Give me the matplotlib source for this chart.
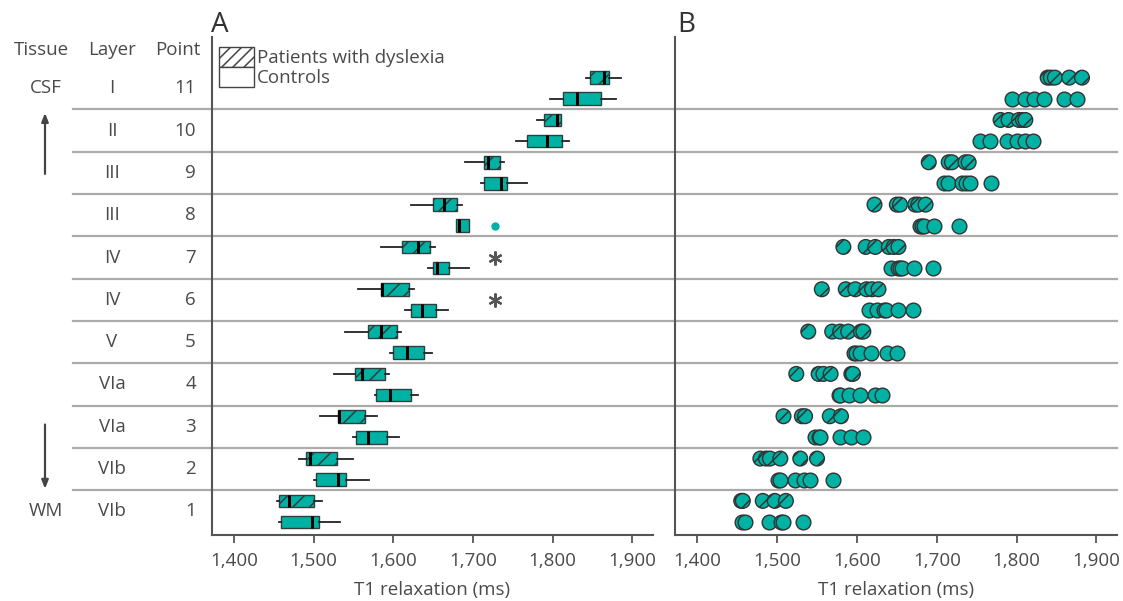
import matplotlib
matplotlib.use("Agg")
import matplotlib.pyplot as plt
from matplotlib.patches import Patch
from matplotlib.transforms import blended_transform_factory
from matplotlib.ticker import FuncFormatter

plt.rcParams['font.family'] = ['Open Sans', 'DejaVu Sans']
plt.rcParams['hatch.linewidth'] = 1.1

# ---------------- data (index 0 = point 1 ... index 10 = point 11) ----------------
points = [1, 2, 3, 4, 5, 6, 7, 8, 9, 10, 11]
layers = ["VIb", "VIb", "VIa", "VIa", "V", "IV", "IV", "III", "III", "II", "I"]

# box statistics: whisker low, Q1, median, Q3, whisker high
dys_whislo = [1454, 1481, 1508, 1525, 1539, 1556, 1584, 1622, 1690, 1780, 1842]
dys_q1     = [1456, 1490, 1531, 1552, 1568, 1585, 1611, 1650, 1714, 1789, 1847]
dys_med    = [1469, 1496, 1532, 1561, 1584, 1586, 1631, 1664, 1719, 1805, 1864]
dys_q3     = [1500, 1529, 1565, 1590, 1605, 1620, 1646, 1680, 1734, 1810, 1871]
dys_whishi = [1511, 1549, 1579, 1594, 1609, 1626, 1652, 1686, 1739, 1811, 1886]

ctl_whislo = [1456, 1501, 1549, 1577, 1596, 1615, 1644, 1679, 1710, 1754, 1796]
ctl_q1     = [1459, 1503, 1553, 1578, 1600, 1622, 1650, 1679, 1714, 1768, 1813]
ctl_med    = [1498, 1530, 1568, 1596, 1617, 1636, 1655, 1682.5, 1735, 1793, 1830]
ctl_q3     = [1507, 1540, 1592, 1622, 1639, 1653, 1670, 1695, 1743, 1812, 1861]
ctl_whishi = [1533, 1570, 1607, 1631, 1649, 1669, 1695, 1695, 1768, 1820, 1879]
ctl_fliers = [[], [], [], [], [], [], [], [1728], [], [], []]

significant_points = [6, 7]
asterisk_x = 1727

# individual subjects (panel B)
dys_values = [
    [1455, 1457, 1482, 1497, 1511],
    [1479, 1486, 1491, 1504, 1529, 1550],
    [1508, 1531, 1535, 1566, 1580],
    [1524, 1552, 1558, 1567, 1593, 1595],
    [1539, 1569, 1579, 1589, 1605, 1608],
    [1556, 1586, 1598, 1612, 1619, 1627],
    [1583, 1611, 1623, 1640, 1646, 1652],
    [1622, 1650, 1654, 1673, 1677, 1686],
    [1690, 1715, 1719, 1736, 1740],
    [1780, 1790, 1803, 1808, 1811],
    [1839, 1843, 1848, 1866, 1882],
]
ctl_values = [
    [1456, 1460, 1490, 1505, 1507, 1533],
    [1501, 1503, 1523, 1534, 1541, 1570],
    [1548, 1552, 1554, 1579, 1592, 1608],
    [1577, 1579, 1590, 1604, 1623, 1631],
    [1596, 1599, 1604, 1617, 1638, 1650],
    [1615, 1625, 1634, 1637, 1652, 1670],
    [1643, 1651, 1654, 1657, 1671, 1695],
    [1679, 1681, 1684, 1696, 1728],
    [1709, 1714, 1732, 1737, 1742, 1768],
    [1754, 1767, 1788, 1800, 1811, 1820],
    [1794, 1811, 1822, 1835, 1859, 1876],
]

x_ticks = [1400, 1500, 1600, 1700, 1800, 1900]
xlabel = "T1 relaxation (ms)"
legend_labels = ["Patients with dyslexia", "Controls"]

# ---------------- style ----------------
TEAL = "#00b2a4"
EDGE = "#2e3f3d"
SPINE = "#555555"
TEXT = "#4a4a4a"
SEP = "#ababab"
FS = 13.5
OFF = 0.25
XLIM = (1372.4, 1925.5)
YLIM = (0.444, 12.21)

fig = plt.figure(figsize=(11.23, 6.01), dpi=100)
axA = fig.add_axes([212 / 1123, 66 / 601, 440.7 / 1123, 498 / 601])
axB = fig.add_axes([675.3 / 1123, 66 / 601, 441.4 / 1123, 498 / 601])

for ax in (axA, axB):
    ax.patch.set_visible(False)
    ax.set_xlim(*XLIM)
    ax.set_ylim(*YLIM)
    for s in ("top", "right"):
        ax.spines[s].set_visible(False)
    for s in ("left", "bottom"):
        ax.spines[s].set_color(SPINE)
        ax.spines[s].set_linewidth(1.5)
    ax.set_yticks([])
    ax.set_xticks(x_ticks)
    ax.xaxis.set_major_formatter(FuncFormatter(lambda v, p: f"{v:,.0f}"))
    ax.tick_params(axis="x", direction="out", length=6, width=1.3, color=SPINE,
                   labelsize=FS, labelcolor=TEXT, pad=6)
    ax.set_xlabel(xlabel, fontsize=FS, color=TEXT, labelpad=8)

# separators across the whole figure
tr = blended_transform_factory(fig.transFigure, axA.transData)
for p in points[:-1]:
    axA.plot([73 / 1123, 1117 / 1123], [p + 0.5, p + 0.5], transform=tr,
             color=SEP, lw=1.6, clip_on=False, zorder=0)

# ---------------- panel A: boxplots ----------------
def stats(wl, q1, md, q3, wh, fl=None):
    return [dict(whislo=a, q1=b, med=c, q3=d, whishi=e, fliers=(fl[i] if fl else []))
            for i, (a, b, c, d, e) in enumerate(zip(wl, q1, md, q3, wh))]

dys_stats = stats(dys_whislo, dys_q1, dys_med, dys_q3, dys_whishi)
ctl_stats = stats(ctl_whislo, ctl_q1, ctl_med, ctl_q3, ctl_whishi, ctl_fliers)

common = dict(vert=False, widths=0.3, patch_artist=True, showcaps=False,
              whiskerprops=dict(color="#222222", lw=1.3),
              medianprops=dict(color="black", lw=2.2),
              flierprops=dict(marker="o", markerfacecolor=TEAL, markeredgecolor=TEAL,
                              markersize=5),
              manage_ticks=False)
axA.bxp(dys_stats, positions=[p + OFF for p in points],
        boxprops=dict(facecolor=TEAL, edgecolor=EDGE, lw=1.0, hatch="//"), **common)
axA.bxp(ctl_stats, positions=[p - OFF for p in points],
        boxprops=dict(facecolor=TEAL, edgecolor=EDGE, lw=1.0), **common)

for p in significant_points:
    axA.plot([asterisk_x], [p], linestyle="none", marker=(6, 2, 0), markersize=10,
             markeredgewidth=1.6, color="#555555")

leg = axA.legend(handles=[Patch(facecolor="white", edgecolor="#444444", hatch="///", lw=1.0),
                          Patch(facecolor="white", edgecolor="#444444", lw=1.0)],
                 labels=legend_labels, loc="upper left",
                 bbox_to_anchor=(7 / 440.7, (498 - 9.7) / 498), frameon=False,
                 fontsize=FS, handlelength=1.87, handleheight=1.26,
                 handletextpad=0.15, labelspacing=0.0, borderpad=0, borderaxespad=0)
for t in leg.get_texts():
    t.set_color(TEXT)

# ---------------- panel B: individual values ----------------
for p, dv, cv in zip(points, dys_values, ctl_values):
    axB.scatter(dv, [p + OFF] * len(dv), s=112, facecolor=TEAL, edgecolor="#333333",
                linewidth=1.0, hatch="//", zorder=3)
    axB.scatter(cv, [p - OFF] * len(cv), s=112, facecolor=TEAL, edgecolor="#333333",
                linewidth=1.0, zorder=3)

# ---------------- panel titles ----------------
fig.text(211 / 1123, 1 - 25 / 601, "A", fontsize=20, color="#333333", va="center", ha="left")
fig.text(677 / 1123, 1 - 25 / 601, "B", fontsize=20, color="#333333", va="center", ha="left")

# ---------------- left annotation columns ----------------
xt, xl, xp = 41 / 1123, 112 / 1123, 196 / 1123
hy = 11.9
axA.text(xt, hy, "Tissue", transform=tr, ha="center", va="center", fontsize=FS, color=TEXT)
axA.text(xl, hy, "Layer", transform=tr, ha="center", va="center", fontsize=FS, color=TEXT)
axA.text(178 / 1123, hy, "Point", transform=tr, ha="center", va="center", fontsize=FS, color=TEXT)
for p, lay in zip(points, layers):
    axA.text(xl, p, lay, transform=tr, ha="center", va="center", fontsize=FS, color=TEXT)
    axA.text(xp, p, str(p), transform=tr, ha="right", va="center", fontsize=FS, color=TEXT)
axA.text(46 / 1123, points[-1], "CSF", transform=tr, ha="center", va="center", fontsize=FS, color=TEXT)
axA.text(46 / 1123, points[0], "WM", transform=tr, ha="center", va="center", fontsize=FS, color=TEXT)

axA.annotate("", xy=(45 / 1123, 10.48), xytext=(45 / 1123, 8.91), xycoords=tr, textcoords=tr,
             arrowprops=dict(arrowstyle="-|>,head_length=0.5,head_width=0.2", color="#444444", lw=1.6))
axA.annotate("", xy=(45 / 1123, 1.47), xytext=(45 / 1123, 3.12), xycoords=tr, textcoords=tr,
             arrowprops=dict(arrowstyle="-|>,head_length=0.5,head_width=0.2", color="#444444", lw=1.6))

fig.savefig("out.png", dpi=100)
